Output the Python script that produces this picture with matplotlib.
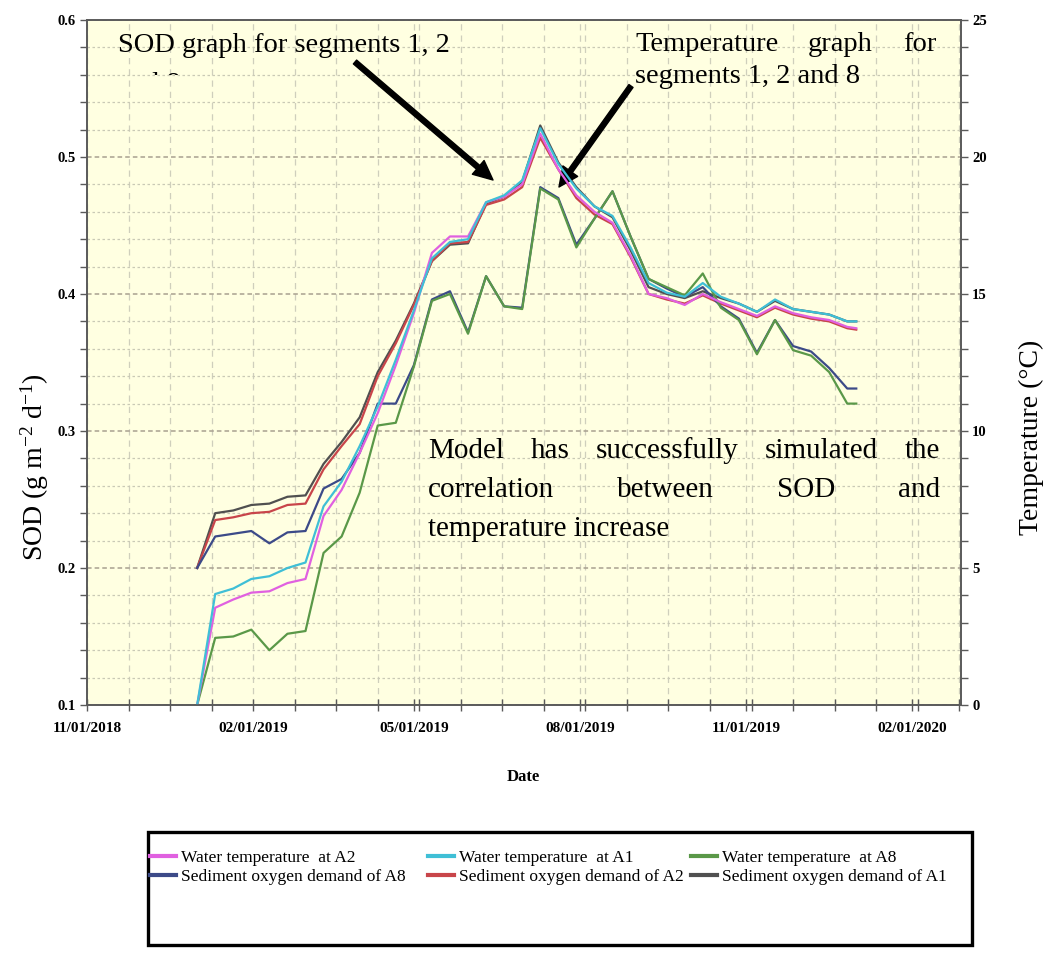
import matplotlib
matplotlib.use("Agg")
import matplotlib.pyplot as plt
import matplotlib.dates as mdates
from matplotlib.ticker import MultipleLocator, AutoMinorLocator
from matplotlib.lines import Line2D
from matplotlib.patches import Rectangle
import pandas as pd

# model output, one value every 10 days (last one on 01/01/2020)
dates = pd.to_datetime([
  "2019-01-01", "2019-01-11", "2019-01-21", "2019-01-31", "2019-02-10", "2019-02-20",
  "2019-03-02", "2019-03-12", "2019-03-22", "2019-04-01", "2019-04-11", "2019-04-21",
  "2019-05-01", "2019-05-11", "2019-05-21", "2019-05-31", "2019-06-10", "2019-06-20",
  "2019-06-30", "2019-07-10", "2019-07-20", "2019-07-30", "2019-08-09", "2019-08-19",
  "2019-08-29", "2019-09-08", "2019-09-18", "2019-09-28", "2019-10-08", "2019-10-18",
  "2019-10-28", "2019-11-07", "2019-11-17", "2019-11-27", "2019-12-07", "2019-12-17",
  "2019-12-27", "2020-01-01"])

# SOD (g m-2 d-1), left axis
sod_a1 = [0.200, 0.240, 0.242, 0.246, 0.247, 0.252, 0.253, 0.276, 0.292, 0.310, 0.343, 0.366,
          0.393, 0.424, 0.436, 0.437, 0.466, 0.471, 0.482, 0.523, 0.496, 0.478, 0.464, 0.456,
          0.432, 0.405, 0.400, 0.397, 0.402, 0.397, 0.393, 0.387, 0.395, 0.389, 0.387, 0.385,
          0.380, 0.380]
sod_a2 = [0.200, 0.235, 0.237, 0.240, 0.241, 0.246, 0.247, 0.272, 0.289, 0.305, 0.340, 0.364,
          0.392, 0.424, 0.437, 0.438, 0.465, 0.469, 0.478, 0.514, 0.491, 0.470, 0.458, 0.451,
          0.427, 0.400, 0.396, 0.393, 0.399, 0.393, 0.388, 0.383, 0.390, 0.385, 0.382, 0.380,
          0.375, 0.374]
sod_a8 = [0.200, 0.223, 0.225, 0.227, 0.218, 0.226, 0.227, 0.258, 0.265, 0.284, 0.320, 0.320,
          0.348, 0.396, 0.402, 0.372, 0.413, 0.391, 0.390, 0.478, 0.470, 0.436, 0.455, 0.475,
          0.442, 0.411, 0.404, 0.398, 0.405, 0.391, 0.382, 0.357, 0.381, 0.362, 0.358, 0.346,
          0.331, 0.331]

# water temperature (deg C), right axis
temp_a1 = [0.0, 4.05, 4.25, 4.6, 4.7, 5.0, 5.2, 7.25, 8.15, 9.45, 10.9, 12.6,
           14.4, 16.3, 16.9, 17.0, 18.35, 18.6, 19.15, 21.05, 19.75, 18.85, 18.2, 17.85,
           16.7, 15.4, 15.05, 14.9, 15.4, 14.9, 14.65, 14.35, 14.8, 14.45, 14.35, 14.25,
           14.0, 14.0]
temp_a2 = [0.0, 3.55, 3.85, 4.1, 4.15, 4.45, 4.6, 6.9, 7.85, 9.2, 10.65, 12.4,
           14.3, 16.5, 17.1, 17.1, 18.35, 18.55, 19.0, 20.85, 19.55, 18.6, 18.0, 17.6,
           16.4, 15.0, 14.85, 14.6, 15.0, 14.7, 14.45, 14.2, 14.55, 14.3, 14.15, 14.05,
           13.8, 13.75]
temp_a8 = [0.0, 2.45, 2.5, 2.75, 2.0, 2.6, 2.7, 5.55, 6.15, 7.75, 10.2, 10.3,
           12.35, 14.75, 15.0, 13.55, 15.65, 14.55, 14.45, 18.85, 18.45, 16.7, 17.75, 18.75,
           17.1, 15.55, 15.25, 14.95, 15.75, 14.5, 14.05, 12.8, 14.05, 12.95, 12.75, 12.15,
           11.0, 11.0]

major_dates = pd.to_datetime(["2018-11-01", "2019-02-01", "2019-05-01",
                              "2019-08-01", "2019-11-01", "2020-02-01"])

col_t_a2 = "#E060E0"
col_t_a1 = "#3FBFD6"
col_t_a8 = "#5A9848"
col_s_a8 = "#3C4A88"
col_s_a2 = "#C8454A"
col_s_a1 = "#505050"

W, H = 1048, 971
serif = "Liberation Serif"
plt.rcParams["font.family"] = serif
plt.rcParams["mathtext.fontset"] = "custom"
plt.rcParams["mathtext.rm"] = serif
plt.rcParams["mathtext.it"] = serif + ":italic"

fig = plt.figure(figsize=(W / 100, H / 100), dpi=100)
ax = fig.add_axes([87 / W, 1 - 705 / H, (961 - 87) / W, (705 - 20) / H])
ax.set_facecolor("#FFFFE1")

ax.plot(dates, sod_a1, color=col_s_a1, lw=1.6)
ax.plot(dates, sod_a2, color=col_s_a2, lw=1.6)
ax.plot(dates, sod_a8, color=col_s_a8, lw=1.6)

ax.set_xlim(pd.Timestamp("2018-11-01"), pd.Timestamp("2020-02-28"))
ax.set_ylim(0.1, 0.6)
ax.set_xticks(major_dates)
ax.xaxis.set_major_formatter(mdates.DateFormatter("%m/%d/%Y"))
ax.xaxis.set_minor_locator(AutoMinorLocator(4))
ax.yaxis.set_major_locator(MultipleLocator(0.1))
ax.yaxis.set_minor_locator(MultipleLocator(0.02))

ax.grid(which="minor", axis="y", color="#C9C9B5", ls=(0, (2, 2)), lw=0.9)
ax.grid(which="major", axis="y", color="#A8A090", ls=(0, (3, 2)), lw=1.1)
ax.grid(which="both", axis="x", color="#CFCFBC", ls=(0, (5, 4)), lw=0.9)

ax2 = ax.twinx()
ax2.plot(dates, temp_a8, color=col_t_a8, lw=1.6)
ax2.plot(dates, temp_a2, color=col_t_a2, lw=1.6)
ax2.plot(dates, temp_a1, color=col_t_a1, lw=1.6)
ax2.set_ylim(0, 25)
ax2.yaxis.set_major_locator(MultipleLocator(5))
ax2.yaxis.set_minor_locator(MultipleLocator(1))

for a in (ax, ax2):
  for s in a.spines.values():
    s.set_color("#5A5A5A")
    s.set_linewidth(1.2)
ax.tick_params(axis="y", which="both", direction="out", length=5, width=1,
               color="#5A5A5A", labelsize=10.5, pad=3)
ax.tick_params(axis="x", which="both", direction="inout", length=9, width=1,
               color="#5A5A5A", labelsize=11, pad=8)
ax2.tick_params(axis="y", which="both", direction="out", length=5, width=1,
                color="#5A5A5A", labelsize=10.5, pad=3)
plt.setp(ax.get_xticklabels() + ax.get_yticklabels() + ax2.get_yticklabels(),
         fontweight="bold")

# axis titles
fig.text(35 / W, 1 - 467 / H, "SOD (g m$^{-2}$ d$^{-1}$)", rotation=90,
         ha="center", va="center", fontsize=20)
fig.text(1031 / W, 1 - 437 / H, "Temperature (\u00b0C)", rotation=90,
         ha="center", va="center", fontsize=20)
fig.text(523 / W, 1 - 777 / H, "Date", ha="center", va="center",
         fontsize=12, fontweight="bold")

# annotations
def justify(words, x0, x1, y, size):
  r = fig.canvas.get_renderer()
  items = [fig.text(0, 1 - y / H, w, fontsize=size, va="baseline") for w in words]
  widths = [t.get_window_extent(r).width for t in items]
  gap = (x1 - x0 - sum(widths)) / (len(items) - 1)
  xpos = x0
  for t, w in zip(items, widths):
    t.set_x(xpos / W)
    xpos += w + gap

fig.text(118 / W, 1 - 52 / H, "SOD graph for segments 1, 2", fontsize=20.5, va="baseline")
cut = fig.text(118 / W, 1 - 91 / H, "and 8", fontsize=20.5, va="baseline")
clip = Rectangle((0, 1 - 75 / H), 1, 75 / H, transform=fig.transFigure)
cut.set_clip_path(clip)

justify(["Temperature", "graph", "for"], 635, 936, 51, 20.5)
fig.text(635 / W, 1 - 83 / H, "segments 1, 2 and 8", fontsize=20.5, va="baseline")

justify(["Model", "has", "successfully", "simulated", "the"], 428, 940, 458, 21)
justify(["correlation", "between", "SOD", "and"], 428, 940, 497, 21)
fig.text(428 / W, 1 - 536 / H, "temperature increase", fontsize=21, va="baseline")

arrow = dict(facecolor="black", edgecolor="black", width=3.6, headwidth=13, headlength=14)
ax.annotate("", xy=(493, H - 180), xytext=(355, H - 62), xycoords="figure pixels",
            textcoords="figure pixels", arrowprops=arrow, annotation_clip=False)
ax.annotate("", xy=(559, H - 187), xytext=(631, H - 86), xycoords="figure pixels",
            textcoords="figure pixels", arrowprops=arrow, annotation_clip=False)

# legend: box plus three columns
fig.patches.append(Rectangle((148 / W, 1 - 945 / H), (972 - 148) / W, (945 - 832) / H,
                             transform=fig.transFigure, fill=False, lw=2.4, ec="black"))
columns = [
  ([col_t_a2, col_s_a8], ["Water temperature  at A2", "Sediment oxygen demand of A8"], 150),
  ([col_t_a1, col_s_a2], ["Water temperature  at A1", "Sediment oxygen demand of A2"], 428),
  ([col_t_a8, col_s_a1], ["Water temperature  at A8", "Sediment oxygen demand of A1"], 691),
]
for cols, labels, x in columns:
  handles = [Line2D([], [], color=c, lw=3) for c in cols]
  fig.legend(handles, labels, loc="upper left", bbox_to_anchor=(x / W, 1 - 850 / H),
             frameon=False, fontsize=12.5, handlelength=1.5, handletextpad=0.3,
             labelspacing=0.15, borderpad=0, borderaxespad=0)

fig.savefig("out.png", dpi=100)
